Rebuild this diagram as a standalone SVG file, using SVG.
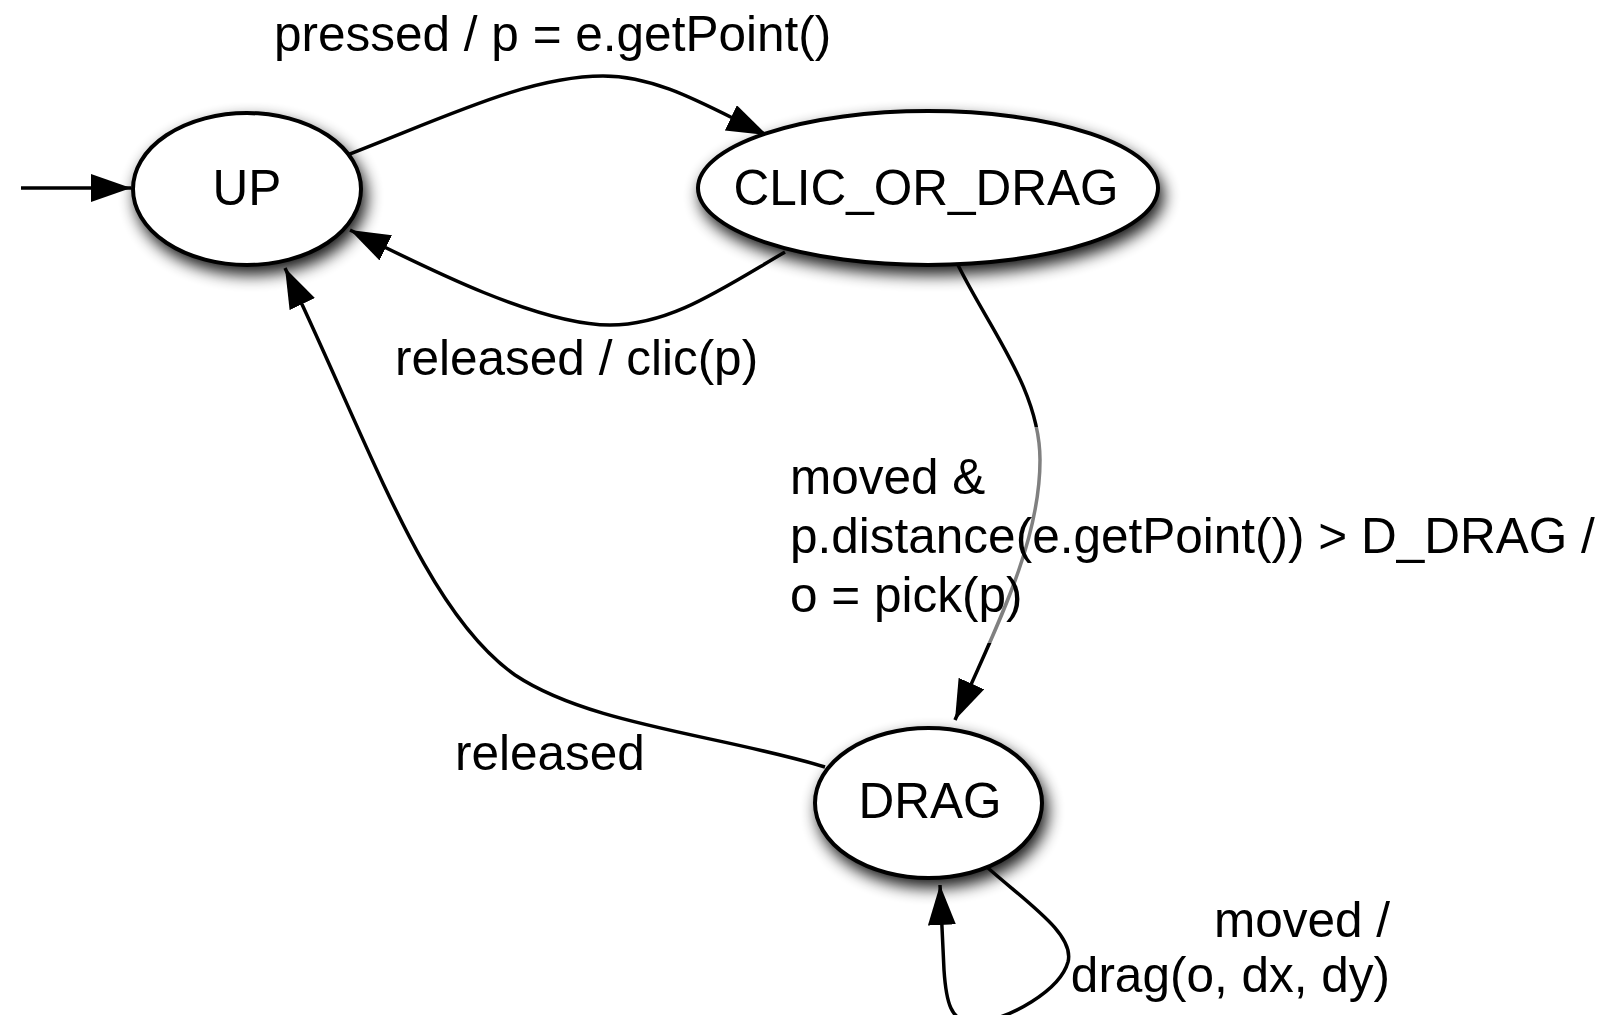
<svg xmlns="http://www.w3.org/2000/svg" width="1607" height="1015" viewBox="0 0 1607 1015">
  <style>
    .node { fill: #ffffff; stroke: #000000; stroke-width: 4; }
    .edge { fill: none; stroke: #000000; stroke-width: 3.5; }
    text { font-family: "Liberation Sans", Arial, Helvetica, sans-serif; font-size: 49.5px; fill: #000000; }
    .c { text-anchor: middle; }
    .r { text-anchor: end; }
  </style>
  <defs>
    <filter id="shadow" x="-30%" y="-30%" width="160%" height="170%">
      <feGaussianBlur in="SourceAlpha" stdDeviation="8"/>
      <feOffset dx="4" dy="8" result="b"/>
      <feComponentTransfer><feFuncA type="linear" slope="0.9"/></feComponentTransfer>
      <feMerge><feMergeNode/><feMergeNode in="SourceGraphic"/></feMerge>
    </filter>
    <marker id="arrow" markerUnits="userSpaceOnUse" markerWidth="42" markerHeight="30" refX="40" refY="14" orient="auto" viewBox="0 0 42 30">
      <path d="M0,0 L40,14 L0,28 z" fill="#000000"/>
    </marker>
  </defs>
  <rect width="1607" height="1015" fill="#ffffff"/>

  <g id="connectors">
    <path id="e-init" class="edge" d="M21,188 L131,188" marker-end="url(#arrow)"/>
    <path id="e-pressed" class="edge" d="M347,155 C450,115 530,76 603,76 C660,76 710,108 767,135" marker-end="url(#arrow)"/>
    <path id="e-released-clic" class="edge" d="M785,252 C720,290 670,325 610,325 C540,325 430,270 350,230" marker-end="url(#arrow)"/>
    <path id="e-released" class="edge" d="M825,767 C720,735 590,725 515,675 C425,612 372,450 285,268" marker-end="url(#arrow)"/>
    <path id="e-moved" class="edge" d="M958,265 C990,330 1040,390 1040,460 C1040,540 1000,620 955,720" marker-end="url(#arrow)"/>
    <path id="e-self" class="edge" d="M988,868 C1030,905 1075,935 1068,962 C1060,990 1010,1020 975,1022 C950,1024 946,1000 944,970 L940,885" marker-end="url(#arrow)"/>
  </g>

  <g id="node-up">
    <ellipse class="node" cx="247" cy="189" rx="114" ry="76" filter="url(#shadow)"/>
    <text class="c" x="247" y="205">UP</text>
  </g>
  <g id="node-clic-or-drag">
    <ellipse class="node" cx="928" cy="188" rx="230" ry="77" filter="url(#shadow)"/>
    <text class="c" x="926" y="205">CLIC_OR_DRAG</text>
  </g>
  <g id="node-drag">
    <ellipse class="node" cx="928.5" cy="803" rx="113.5" ry="75" filter="url(#shadow)"/>
    <text class="c" x="930" y="818">DRAG</text>
  </g>

  <g id="labels">
    <text x="274" y="51">pressed / p = e.getPoint()</text>
    <text x="395" y="375">released / clic(p)</text>
    <text x="455" y="770">released</text>
    <rect x="786" y="427" width="821" height="216" fill="#ffffff" fill-opacity="0.5"/>
    <text x="790" y="494">moved &amp;</text>
    <text x="790" y="553">p.distance(e.getPoint()) &gt; D_DRAG /</text>
    <text x="790" y="612">o = pick(p)</text>
    <text class="r" x="1390" y="937">moved /</text>
    <text class="r" x="1390" y="992">drag(o, dx, dy)</text>
  </g>
</svg>
